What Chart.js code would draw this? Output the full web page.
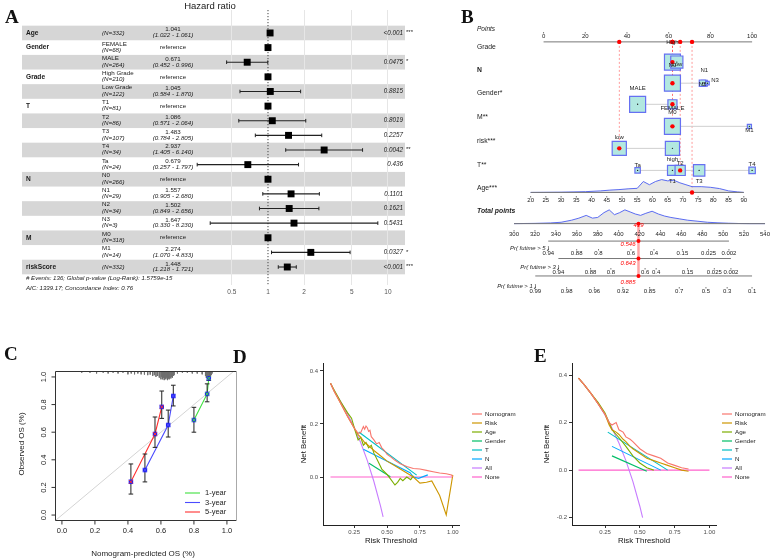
<!DOCTYPE html>
<html>
<head>
<meta charset="utf-8">
<script src="https://cdn.jsdelivr.net/npm/chart.js@4.4.1/dist/chart.umd.min.js"></script>
<style>
  body { margin: 0; background: #fff; }
  #wrap { position: relative; width: 784px; height: 560px; overflow: hidden; background: #fff; }
  canvas { position: absolute; }
  .tag { position: absolute; font: bold 19px 'Liberation Serif', 'DejaVu Serif', serif; line-height: 19px; color: #111; }
</style>
</head>
<body>
<div id="wrap">
  <canvas id="cA" width="460" height="300" style="left:0px;top:0px"></canvas>
  <canvas id="cB" width="324" height="305" style="left:460px;top:0px"></canvas>
  <canvas id="cC" width="245" height="255" style="left:0px;top:305px"></canvas>
  <canvas id="cD" width="290" height="255" style="left:245px;top:305px"></canvas>
  <canvas id="cE" width="249" height="255" style="left:535px;top:305px"></canvas>
  <div class="tag" style="left:5px;top:7px">A</div>
  <div class="tag" style="left:461px;top:7px">B</div>
  <div class="tag" style="left:4px;top:344px">C</div>
  <div class="tag" style="left:233px;top:347px">D</div>
  <div class="tag" style="left:534px;top:346px">E</div>
</div>
<script>
Chart.defaults.font.family = "'Liberation Sans', Arial, sans-serif";
Chart.defaults.color = '#333';
const F = "'Liberation Sans', Arial, sans-serif";

// ---------- A: hazard ratios
const hrVars   = ['Age', 'Gender', '', 'Grade', '', 'T', '', '', '', '', 'N', '', '', '', 'M', '', 'riskScore'];
const hrLevels = ['', 'FEMALE', 'MALE', 'High Grade', 'Low Grade', 'T1', 'T2', 'T3', 'T4', 'Ta', 'N0', 'N1', 'N2', 'N3', 'M0', 'M1', ''];
const hrN      = [332, 68, 264, 210, 122, 81, 86, 107, 34, 24, 266, 29, 34, 3, 318, 14, 332];
const hrEst    = [1.041, 1, 0.671, 1, 1.045, 1, 1.086, 1.483, 2.937, 0.679, 1, 1.557, 1.502, 1.647, 1, 2.274, 1.448];
const hrLow    = [1.022, null, 0.452, null, 0.584, null, 0.571, 0.784, 1.405, 0.257, null, 0.905, 0.849, 0.330, null, 1.070, 1.218];
const hrHigh   = [1.061, null, 0.996, null, 1.870, null, 2.064, 2.805, 6.140, 1.797, null, 2.680, 2.656, 8.230, null, 4.833, 1.721];
const hrP      = ['<0.001', '', '0.0475', '', '0.8815', '', '0.8019', '0.2257', '0.0042', '0.436', '', '0.1101', '0.1621', '0.5431', '', '0.0327', '<0.001'];
const hrStars  = ['***', '', '*', '', '', '', '', '', '**', '', '', '', '', '', '', '*', '***'];
const hrTicks  = [0.5, 1, 2, 5, 10];

// ---------- B: nomogram
const ptsTicks  = [0, 20, 40, 60, 80, 100];
const gradeLv   = ['High', 'Low'],  gradePts  = [61.8, 63.9], gradeN  = [210, 122];
const nLv       = ['N0', 'N1', 'N2', 'N3'], nPts = [61.8, 77.1, 76.2, 78.6], nN = [266, 29, 34, 3];
const genderLv  = ['MALE', 'FEMALE'], genderPts = [45.1, 61.8], genderN = [264, 68];
const mLv       = ['M0', 'M1'], mPts = [61.8, 98.7], mN = [318, 14];
const riskLv    = ['low', 'high'], riskPts = [36.3, 61.8], riskN = [166, 166];
const tLv       = ['Ta', 'T1', 'T2', 'T3', 'T4'], tPts = [45.1, 61.8, 65.5, 74.6, 100], tN = [24, 81, 86, 107, 34];
const patient   = ['High', 'N0', 'FEMALE', 'M0', 'low', 'T2'];
const patientAge = 73, patientTotal = 419;
const ageTicks  = [20, 25, 30, 35, 40, 45, 50, 55, 60, 65, 70, 75, 80, 85, 90];
const ageDensX  = [20, 30, 38, 43, 46, 49, 52, 55, 57, 59, 61, 63, 65, 67, 69, 71, 73, 76, 79, 82, 85, 88, 90];
const ageDens   = [0, 0.02, 0.06, 0.12, 0.18, 0.22, 0.28, 0.32, 0.85, 0.6, 0.85, 1.0, 0.9, 0.95, 0.75, 0.6, 0.45, 0.45, 0.4, 0.3, 0.12, 0.04, 0];
const totTicks  = [300, 320, 340, 360, 380, 400, 420, 440, 460, 480, 500, 520, 540];
const totDensX  = [300, 320, 335, 345, 355, 362, 369, 375, 380, 386, 391, 396, 401, 406, 411, 416, 421, 426, 432, 438, 444, 450, 458, 466, 475, 485, 495, 505, 515, 525, 540];
const totDens   = [0, 0.02, 0.05, 0.1, 0.25, 0.4, 0.6, 0.4, 0.45, 0.8, 1.0, 0.65, 0.8, 1.0, 0.85, 0.7, 0.6, 0.75, 0.9, 0.7, 0.55, 0.45, 0.35, 0.25, 0.18, 0.1, 0.06, 0.03, 0.01, 0, 0];
const pr5Ticks  = [0.94, 0.88, 0.8, 0.6, 0.4, 0.15, 0.025, 0.002];
const pr5At     = [332.7, 359.9, 380.8, 411.8, 433.8, 461.0, 486.0, 505.5];
const pr3Ticks  = [0.94, 0.88, 0.8, 0.6, 0.4, 0.15, 0.025, 0.002];
const pr3At     = [342.4, 373.2, 392.6, 425.3, 435.9, 465.9, 491.5, 507.4];
const pr1Ticks  = [0.99, 0.98, 0.96, 0.92, 0.85, 0.7, 0.5, 0.3, 0.1];
const pr1At     = [320.3, 350.3, 376.8, 404.1, 429.7, 458.0, 483.5, 503.8, 527.6];
const prPatient = ['0.546', '0.643', '0.885'];

// ---------- C: calibration
const calibTicks = [0, 0.2, 0.4, 0.6, 0.8, 1.0];
const cal1X = [0.80, 0.88, 0.89], cal1Y = [0.688, 0.877, 0.99], cal1Lo = [0.60, 0.82, 0.975], cal1Hi = [0.78, 0.95, 1.0];
const cal3X = [0.503, 0.644, 0.675], cal3Y = [0.326, 0.652, 0.862], cal3Lo = [0.24, 0.565, 0.79], cal3Hi = [0.442, 0.76, 0.94];
const cal5X = [0.418, 0.564, 0.605], cal5Y = [0.241, 0.587, 0.783], cal5Lo = [0.152, 0.49, 0.70], cal5Hi = [0.37, 0.71, 0.898];
const rugX = [0.12, 0.17, 0.21, 0.25, 0.28, 0.31, 0.34, 0.37, 0.40, 0.42, 0.44, 0.46, 0.48, 0.50, 0.52, 0.535, 0.55, 0.56, 0.57, 0.58, 0.59, 0.60, 0.605, 0.61, 0.615, 0.62, 0.625, 0.63, 0.635, 0.64, 0.645, 0.65, 0.655, 0.66, 0.665, 0.67, 0.675, 0.68, 0.70, 0.73, 0.76, 0.79, 0.82, 0.85, 0.87, 0.875, 0.88, 0.885, 0.89, 0.895, 0.90, 0.905, 0.91];
const rugH = [0.012, 0.012, 0.018, 0.012, 0.018, 0.012, 0.018, 0.012, 0.024, 0.018, 0.024, 0.018, 0.024, 0.026, 0.03, 0.026, 0.036, 0.03, 0.042, 0.036, 0.048, 0.06, 0.042, 0.06, 0.048, 0.066, 0.054, 0.06, 0.048, 0.066, 0.054, 0.06, 0.048, 0.054, 0.042, 0.048, 0.036, 0.03, 0.018, 0.012, 0.012, 0.018, 0.018, 0.024, 0.036, 0.048, 0.042, 0.06, 0.054, 0.048, 0.042, 0.03, 0.018];

// ---------- D: decision curves
const dNomoX = [0.07, 0.1, 0.15, 0.2, 0.25, 0.28, 0.3, 0.32, 0.33, 0.34, 0.35, 0.36, 0.37, 0.38, 0.4, 0.42, 0.44, 0.46, 0.48, 0.5, 0.53, 0.56, 0.6, 0.65, 0.7, 0.75, 0.8, 0.85, 0.9, 0.95, 0.99, 1.0];
const dNomoY = [0.354, 0.322, 0.275, 0.228, 0.185, 0.165, 0.168, 0.19, 0.18, 0.192, 0.186, 0.172, 0.176, 0.152, 0.14, 0.125, 0.13, 0.11, 0.1, 0.085, 0.075, 0.063, 0.05, 0.04, 0.032, 0.03, 0.025, 0.02, 0.015, 0.012, 0.008, 0.0];
const dRiskX = [0.07, 0.1, 0.15, 0.2, 0.25, 0.28, 0.3, 0.33, 0.36, 0.4, 0.45, 0.5, 0.55, 0.6, 0.65, 0.7, 0.75, 0.8, 0.84, 0.9, 0.95, 1.0];
const dRiskY = [0.354, 0.322, 0.275, 0.228, 0.185, 0.16, 0.15, 0.13, 0.118, 0.1, 0.08, 0.06, 0.045, 0.03, 0.015, 0.0, -0.023, -0.02, -0.015, -0.07, -0.143, 0.008];
const dAgeX  = [0.07, 0.1, 0.15, 0.2, 0.23, 0.26, 0.28, 0.3, 0.32, 0.34, 0.36, 0.38, 0.4, 0.43, 0.46, 0.5, 0.53, 0.56, 0.58, 0.6, 0.62, 0.65, 0.68, 0.7];
const dAgeY  = [0.354, 0.326, 0.282, 0.242, 0.222, 0.17, 0.14, 0.15, 0.12, 0.13, 0.11, 0.12, 0.09, 0.06, 0.03, 0.01, -0.01, -0.03, -0.02, -0.005, -0.014, 0.0, -0.01, 0.005];
const dGenderX = [0.363, 0.525], dGenderY = [0.052, 0.001];
const dTX = [0.285, 0.725], dTY = [0.17, 0.007];
const dNX = [0.32, 0.675, 0.70, 0.74, 0.81], dNY = [0.105, 0.016, 0.0, -0.005, 0.008];
const dAllX = [0.07, 0.1, 0.15, 0.2, 0.25, 0.3, 0.35, 0.4, 0.45, 0.47];
const dAllY = [0.354, 0.322, 0.282, 0.238, 0.187, 0.129, 0.062, -0.017, -0.109, -0.15];
const dNoneX = [0.07, 1.0], dNoneY = [0, 0];

// ---------- E: decision curves (second cohort)
const eNomoX = [0.06, 0.1, 0.15, 0.2, 0.25, 0.28, 0.3, 0.33, 0.35, 0.38, 0.4, 0.43, 0.45, 0.5, 0.55, 0.6, 0.65, 0.7, 0.75, 0.8, 0.85];
const eNomoY = [0.387, 0.36, 0.322, 0.28, 0.235, 0.2, 0.19, 0.2, 0.17, 0.16, 0.14, 0.13, 0.12, 0.09, 0.07, 0.06, 0.05, 0.03, 0.02, 0.01, 0.005];
const eRiskX = [0.06, 0.1, 0.15, 0.2, 0.25, 0.28, 0.3, 0.33, 0.35, 0.38, 0.4, 0.43, 0.45, 0.5, 0.55, 0.6, 0.65, 0.7, 0.75, 0.8, 0.85];
const eRiskY = [0.387, 0.36, 0.322, 0.28, 0.235, 0.19, 0.17, 0.16, 0.15, 0.13, 0.12, 0.1, 0.09, 0.07, 0.05, 0.04, 0.03, 0.02, 0.01, 0.0, -0.005];
const eAgeX  = [0.06, 0.1, 0.15, 0.2, 0.25, 0.28, 0.3, 0.33, 0.36, 0.4, 0.45, 0.5, 0.55, 0.6];
const eAgeY  = [0.387, 0.36, 0.322, 0.285, 0.24, 0.2, 0.17, 0.15, 0.13, 0.1, 0.06, 0.03, 0.01, 0.0];
const eGenderX = [0.3, 0.55], eGenderY = [0.06, -0.005];
const eTX = [0.27, 0.7], eTY = [0.16, 0.0];
const eNX = [0.3, 0.65], eNY = [0.1, 0.0];
const eAllX = [0.06, 0.1, 0.15, 0.2, 0.25, 0.3, 0.35, 0.4, 0.45, 0.5, 0.52];
const eAllY = [0.387, 0.36, 0.322, 0.28, 0.232, 0.177, 0.114, 0.04, -0.047, -0.152, -0.2];
const eNoneX = [0.06, 1.0], eNoneY = [0, 0];

const dcaLabels = ['Nomogram', 'Risk', 'Age', 'Gender', 'T', 'N', 'All', 'None'];
const dcaColors = ['#F8766D', '#CD9600', '#7CAE00', '#00BE67', '#00BFC4', '#00A9FF', '#C77CFF', '#FF61CC'];

// ---------- helpers
const base = {
  responsive: false, animation: false, devicePixelRatio: 1, events: [],
  plugins: { legend: { display: false }, tooltip: { enabled: false } }
};
const zip = (xs, ys) => xs.map((x, i) => ({ x, y: ys[i] }));
function line(data, color, width, extra) {
  return Object.assign({ type: 'line', data, borderColor: color, borderWidth: width, pointRadius: 0, fill: false, tension: 0 }, extra || {});
}

// =============== A
const dsA = [];
dsA.push({ type: 'scatter', data: hrEst.map((v, i) => ({ x: v, y: i })), pointStyle: 'rect', pointRadius: 4.9,
  pointBackgroundColor: '#000', pointBorderWidth: 0 });
hrEst.forEach((v, i) => {
  if (hrLow[i] === null) return;
  dsA.push(line([{ x: hrLow[i], y: i }, { x: hrHigh[i], y: i }], '#222', 1.1,
    { pointStyle: 'line', rotation: 90, pointRadius: 1.8, pointBorderWidth: 1, pointBorderColor: '#222' }));
});
dsA.push(line([{ x: 1, y: -1.57 }, { x: 1, y: 17.23 }], '#444', 1, { borderDash: [1.2, 1.8] }));

const forestPlugin = {
  id: 'forest',
  beforeDraw(chart) {
    const { ctx, scales: { y } } = chart;
    ctx.save();
    ctx.fillStyle = '#d6d6d6';
    hrEst.forEach((_, i) => {
      if (i % 2) return;
      const t = y.getPixelForValue(i - 0.5), b = y.getPixelForValue(i + 0.5);
      ctx.fillRect(22, t, 383, b - t);
    });
    ctx.restore();
  },
  beforeDatasetsDraw(chart) {
    const { ctx, scales: { y } } = chart;
    ctx.save();
    ctx.fillStyle = '#1a1a1a';
    ctx.textBaseline = 'middle';
    hrEst.forEach((v, i) => {
      const c = y.getPixelForValue(i);
      if (hrVars[i]) { ctx.font = `bold 6.6px ${F}`; ctx.textAlign = 'left'; ctx.fillText(hrVars[i], 26, c); }
      ctx.textAlign = 'left';
      if (hrLevels[i]) {
        ctx.font = `6.2px ${F}`; ctx.fillText(hrLevels[i], 102, c - 3.8);
        ctx.font = `italic 6.2px ${F}`; ctx.fillText(`(N=${hrN[i]})`, 102, c + 2.6);
      } else {
        ctx.font = `italic 6.2px ${F}`; ctx.fillText(`(N=${hrN[i]})`, 102, c);
      }
      ctx.textAlign = 'center';
      if (hrLow[i] === null) {
        ctx.font = `6.2px ${F}`; ctx.fillText('reference', 173, c);
      } else {
        ctx.font = `6.2px ${F}`; ctx.fillText(v.toFixed(3), 173, c - 3.2);
        ctx.font = `italic 6.2px ${F}`; ctx.fillText(`(${hrLow[i].toFixed(3)} - ${hrHigh[i].toFixed(3)})`, 173, c + 2.6);
      }
      if (hrP[i]) {
        ctx.textAlign = 'right'; ctx.font = `italic 6.3px ${F}`; ctx.fillText(hrP[i], 403, c);
        if (hrStars[i]) { ctx.textAlign = 'left'; ctx.font = `6px ${F}`; ctx.fillText(hrStars[i], 406, c - 0.5); }
      }
    });
    ctx.textAlign = 'center'; ctx.font = `9.5px ${F}`; ctx.fillText('Hazard ratio', 210, 6);
    ctx.textAlign = 'left'; ctx.font = `italic 6.1px ${F}`;
    ctx.fillText('# Events: 136; Global p-value (Log-Rank): 1.5759e-15', 26, 278);
    ctx.fillText('AIC: 1339.17; Concordance Index: 0.76', 26, 288);
    ctx.restore();
  }
};

new Chart(document.getElementById('cA'), {
  type: 'scatter',
  data: { datasets: dsA },
  options: Object.assign({}, base, {
    layout: { padding: { left: 185, right: 55, top: 10, bottom: 0 } },
    scales: {
      x: {
        type: 'logarithmic', min: 0.2034, max: 13.86, bounds: 'data',
        afterBuildTicks: s => { s.ticks = hrTicks.map(v => ({ value: v })); },
        afterFit: s => { s.height = 15; },
        grid: { color: c => (c.tick && c.tick.value === 1) ? 'rgba(0,0,0,0)' : '#e6e6e6', lineWidth: 1, drawTicks: false },
        border: { display: false },
        ticks: { padding: 3, color: '#555', font: { size: 6.5 }, autoSkip: false, maxRotation: 0, callback: v => String(v) }
      },
      y: { type: 'linear', display: false, reverse: true, min: -1.57, max: 17.23 }
    }
  }),
  plugins: [forestPlugin]
});

// =============== B
const nomoRows = [
  { label: 'Grade',   y: 54,  lv: gradeLv,  pts: gradePts,  n: gradeN,  pos: ['a', 'b'] },
  { label: 'N',       y: 77,  lv: nLv,      pts: nPts,      n: nN,      pos: ['a', 'a', 'b', 'r'], bold: true },
  { label: 'Gender*', y: 100, lv: genderLv, pts: genderPts, n: genderN, pos: ['a', 'b'] },
  { label: 'M**',     y: 124, lv: mLv,      pts: mPts,      n: mN,      pos: ['a', 'b'] },
  { label: 'risk***', y: 148, lv: riskLv,   pts: riskPts,   n: riskN,   pos: ['a', 'b'] },
  { label: 'T**',     y: 172, lv: tLv,      pts: tPts,      n: tN,      pos: ['a', 'b', 'a', 'b', 'a'] }
];
const boxSide = n => Math.min(16, Math.max(3.5, 1.1 * Math.sqrt(n)));
const yPts = 32, yAge = 196, yTot = 230, yPr = [249, 268, 287];
const prSets = [[pr5Ticks, pr5At], [pr3Ticks, pr3At], [pr1Ticks, pr1At]];
const picks = nomoRows.map((r, k) => r.pts[r.lv.indexOf(patient[k])]);

const dsB = []; // back to front
const redDash = 'rgba(255,90,90,0.75)';
nomoRows.forEach((r, k) => dsB.push(line([{ x: picks[k], y: yPts }, { x: picks[k], y: r.y }], redDash, 0.8, { borderDash: [2, 2] })));
dsB.push(line([{ x: patientAge, y: yPts }, { x: patientAge, y: yAge }], redDash, 0.8, { borderDash: [2, 2], xAxisID: 'age' }));
dsB.push(line(ageDensX.map((x, i) => ({ x, y: yAge - 14 * ageDens[i] })), '#4a5cf0', 0.9,
  { xAxisID: 'age', fill: { value: yAge }, backgroundColor: 'rgba(200,200,200,0.45)' }));
dsB.push(line(totDensX.map((x, i) => ({ x, y: yTot - 15 * totDens[i] })), '#4a5cf0', 0.9,
  { xAxisID: 'tot', fill: { value: yTot }, backgroundColor: 'rgba(200,200,200,0.45)' }));
dsB.push(line([{ x: 0, y: yPts }, { x: 100, y: yPts }], '#777', 1));
dsB.push(line([{ x: 20, y: yAge }, { x: 90, y: yAge }], '#777', 1, { xAxisID: 'age' }));
dsB.push(line([{ x: 300, y: yTot }, { x: 540, y: yTot }], '#777', 1, { xAxisID: 'tot' }));
prSets.forEach(([tk, at], k) => dsB.push(line([{ x: at[0], y: yPr[k] }, { x: at[at.length - 1], y: yPr[k] }], '#777', 1, { xAxisID: 'tot' })));
nomoRows.forEach(r => dsB.push(line([{ x: Math.min(...r.pts), y: r.y }, { x: Math.max(...r.pts), y: r.y }], '#cfcfcf', 1)));
nomoRows.forEach(r => dsB.push({ type: 'scatter', data: r.pts.map(x => ({ x, y: r.y })), pointStyle: 'rect',
  pointRadius: r.n.map(n => boxSide(n) / Math.SQRT2), pointBackgroundColor: '#b2e8e0', pointBorderColor: '#6670f2', pointBorderWidth: 1.2 }));
nomoRows.forEach(r => dsB.push({ type: 'scatter', data: r.pts.map(x => ({ x, y: r.y })), pointRadius: 0.7, pointBackgroundColor: '#222', pointBorderWidth: 0 }));
dsB.push(line([{ x: patientTotal, y: yTot }, { x: patientTotal, y: 289 }], 'rgba(255,0,0,0.35)', 2.5, { xAxisID: 'tot' }));
dsB.push({ type: 'scatter', data: nomoRows.map((r, k) => ({ x: picks[k], y: r.y })).concat(picks.map(x => ({ x, y: yPts }))),
  pointRadius: 2.2, pointBackgroundColor: '#ff0000', pointBorderWidth: 0 });
dsB.push({ type: 'scatter', xAxisID: 'age', data: [{ x: patientAge, y: yAge }, { x: patientAge, y: yPts }],
  pointRadius: 2.2, pointBackgroundColor: '#ff0000', pointBorderWidth: 0 });
dsB.push({ type: 'scatter', xAxisID: 'tot', data: [yTot].concat(yPr).map(y => ({ x: patientTotal, y })),
  pointRadius: 2, pointBackgroundColor: '#ff0000', pointBorderWidth: 0 });
dsB.reverse();

const nomoPlugin = {
  id: 'nomo',
  afterDraw(chart) {
    const { ctx, scales } = chart;
    const X = scales.x, A = scales.age, T = scales.tot;
    ctx.save();
    ctx.fillStyle = '#222'; ctx.strokeStyle = '#777'; ctx.lineWidth = 1;
    ctx.textBaseline = 'middle'; ctx.textAlign = 'left';
    const rowLab = (txt, y, font) => { ctx.font = font; ctx.textAlign = 'left'; ctx.fillText(txt, 17, y); };
    rowLab('Points', yPts - 3, `italic 6.5px ${F}`);
    nomoRows.forEach(r => rowLab(r.label, r.y - 7, `${r.bold ? 'bold ' : ''}6.8px ${F}`));
    rowLab('Age***', yAge - 8, `6.8px ${F}`);
    rowLab('Total points', 211, `bold italic 6.8px ${F}`);
    const axis = (scale, ticks, y) => {
      ctx.font = `6px ${F}`; ctx.textAlign = 'center';
      ticks.forEach(v => {
        const px = scale.getPixelForValue(v);
        ctx.beginPath(); ctx.moveTo(px, y); ctx.lineTo(px, y + 1.5); ctx.stroke();
        ctx.fillText(String(v), px, y + 4.5);
      });
    };
    axis(X, ptsTicks, yPts);
    axis(A, ageTicks, yAge);
    axis(T, totTicks, yTot);
    prSets.forEach(([tk, at], k) => {
      ctx.font = `6px ${F}`; ctx.textAlign = 'center';
      at.forEach((v, i) => {
        const px = T.getPixelForValue(v);
        ctx.beginPath(); ctx.moveTo(px, yPr[k]); ctx.lineTo(px, yPr[k] + 1.5); ctx.stroke();
        ctx.fillText(String(tk[i]), px, yPr[k] + 4.5);
      });
      const x0 = T.getPixelForValue(at[0]);
      ctx.font = `italic 5.9px ${F}`; ctx.textAlign = 'right';
      ctx.fillText(`Pr( futime > ${[5, 3, 1][k]} )`, x0 + 1, yPr[k] - 1);
      ctx.fillStyle = '#ff0000'; ctx.font = `italic 6px ${F}`;
      ctx.fillText(prPatient[k], T.getPixelForValue(patientTotal) - 3, yPr[k] - 5);
      ctx.fillStyle = '#222';
    });
    ctx.fillStyle = '#ff0000'; ctx.font = `italic 6px ${F}`; ctx.textAlign = 'center';
    ctx.fillText(String(patientTotal), T.getPixelForValue(patientTotal), yTot - 5);
    ctx.fillStyle = '#222'; ctx.font = `6px ${F}`;
    nomoRows.forEach(r => {
      r.lv.forEach((lv, i) => {
        const px = X.getPixelForValue(r.pts[i]), h = boxSide(r.n[i]) / 2;
        const p = r.pos[i];
        if (p === 'a') { ctx.textAlign = 'center'; ctx.fillText(lv, px, r.y - h - 4); }
        else if (p === 'b') { ctx.textAlign = 'center'; ctx.fillText(lv, px, r.y + h + 4); }
        else { ctx.textAlign = 'left'; ctx.fillText(lv, px + h + 2, r.y + 3); }
      });
    });
    ctx.restore();
  }
};

new Chart(document.getElementById('cB'), {
  type: 'scatter',
  data: { datasets: dsB },
  options: Object.assign({}, base, {
    layout: { padding: 0 },
    scales: {
      x:   { type: 'linear', display: false, min: -34.07, max: 109.29 },
      age: { type: 'linear', axis: 'x', position: 'bottom', display: false, min: 0.909, max: 99.09 },
      tot: { type: 'linear', axis: 'x', position: 'bottom', display: false, min: 260.29, max: 546.18 },
      y:   { type: 'linear', display: false, reverse: true, min: 0, max: 305 }
    }
  }),
  plugins: [nomoPlugin]
});

// =============== C
const calSeries = [
  { label: '1-year', x: cal1X, y: cal1Y, lo: cal1Lo, hi: cal1Hi, color: '#3ee03e' },
  { label: '3-year', x: cal3X, y: cal3Y, lo: cal3Lo, hi: cal3Hi, color: '#4b4bff' },
  { label: '5-year', x: cal5X, y: cal5Y, lo: cal5Lo, hi: cal5Hi, color: '#ff3030' }
];
const dsC = [];
calSeries.forEach(s => dsC.push({ type: 'scatter', data: zip(s.x, s.y), pointStyle: 'crossRot', pointRadius: 2.6, pointBorderColor: s.color, pointBorderWidth: 1 }));
calSeries.forEach(s => dsC.push({ type: 'scatter', data: zip(s.x, s.y), pointStyle: 'rect', pointRadius: 3.2, pointBackgroundColor: '#2323f0', pointBorderWidth: 0 }));
calSeries.forEach(s => s.x.forEach((x, i) => dsC.push(line([{ x, y: s.lo[i] }, { x, y: s.hi[i] }], '#222', 1,
  { pointStyle: 'line', pointRadius: 2.3, pointBorderColor: '#222', pointBorderWidth: 1 }))));
calSeries.forEach(s => dsC.push(line(zip(s.x, s.y), s.color, 1.1)));
const rugData = [];
rugX.forEach((x, i) => { rugData.push({ x, y: 1.043 }, { x, y: 1.043 - rugH[i] }, { x, y: null }); });
dsC.push(line(rugData, '#6e6e6e', 0.9, { spanGaps: false }));
dsC.push(line([{ x: -0.1, y: -0.1 }, { x: 1.2, y: 1.2 }], '#d4d4d4', 1));

const calibPlugin = {
  id: 'calib',
  afterDraw(chart) {
    const { ctx, chartArea: a, scales: { x, y } } = chart;
    ctx.save();
    ctx.strokeStyle = '#333'; ctx.lineWidth = 1;
    ctx.beginPath();
    ctx.moveTo(a.right - 0.5, a.top + 0.5); ctx.lineTo(a.left + 0.5, a.top + 0.5);
    ctx.lineTo(a.left + 0.5, a.bottom - 0.5); ctx.lineTo(a.right - 0.5, a.bottom - 0.5); ctx.stroke();
    ctx.strokeStyle = '#aaa'; ctx.beginPath(); ctx.moveTo(a.right - 0.5, a.top); ctx.lineTo(a.right - 0.5, a.bottom); ctx.stroke();
    ctx.strokeStyle = '#333';
    ctx.fillStyle = '#222'; ctx.font = `7.5px ${F}`; ctx.textAlign = 'center'; ctx.textBaseline = 'middle';
    calibTicks.forEach(v => {
      const px = x.getPixelForValue(v), py = y.getPixelForValue(v);
      ctx.beginPath(); ctx.moveTo(px, a.bottom); ctx.lineTo(px, a.bottom + 3.5); ctx.stroke();
      ctx.fillText(v.toFixed(1), px, a.bottom + 9.5);
      ctx.beginPath(); ctx.moveTo(a.left, py); ctx.lineTo(a.left - 3.5, py); ctx.stroke();
      ctx.save(); ctx.translate(a.left - 11.5, py); ctx.rotate(-Math.PI / 2); ctx.fillText(v.toFixed(1), 0, 0); ctx.restore();
    });
    ctx.font = `8px ${F}`;
    ctx.fillText('Nomogram-predicted OS (%)', (a.left + a.right) / 2 - 3, 249);
    ctx.save(); ctx.translate(22, (a.top + a.bottom) / 2 - 2); ctx.rotate(-Math.PI / 2); ctx.fillText('Observed OS (%)', 0, 0); ctx.restore();
    ctx.textAlign = 'left'; ctx.font = `7.5px ${F}`;
    calSeries.forEach((s, i) => {
      const ly = 188 + i * 9.5;
      ctx.strokeStyle = s.color; ctx.lineWidth = 1.1;
      ctx.beginPath(); ctx.moveTo(185, ly); ctx.lineTo(200, ly); ctx.stroke();
      ctx.fillText(s.label, 205, ly);
    });
    ctx.restore();
  }
};

new Chart(document.getElementById('cC'), {
  type: 'scatter',
  data: { datasets: dsC },
  options: Object.assign({}, base, {
    layout: { padding: { left: 55, right: 8, top: 66, bottom: 39 } },
    scales: {
      x: { type: 'linear', display: false, min: -0.042, max: 1.061 },
      y: { type: 'linear', display: false, min: -0.043, max: 1.043 }
    }
  }),
  plugins: [calibPlugin]
});

// =============== D / E
function dcaChart(id, series, geo) {
  const legend = {
    id: 'dcaLegend',
    afterDraw(chart) {
      const { ctx } = chart;
      ctx.save();
      ctx.font = `6.2px ${F}`; ctx.textBaseline = 'middle'; ctx.textAlign = 'left'; ctx.fillStyle = '#222';
      dcaLabels.forEach((lab, i) => {
        const ly = geo.legY + i * 9;
        ctx.strokeStyle = dcaColors[i]; ctx.lineWidth = 1.2;
        ctx.beginPath(); ctx.moveTo(geo.legX, ly); ctx.lineTo(geo.legX + 10, ly); ctx.stroke();
        ctx.fillText(lab, geo.legX + 13, ly);
      });
      ctx.restore();
    }
  };
  return new Chart(document.getElementById(id), {
    type: 'line',
    data: { datasets: series.map((s, i) => line(zip(s[0], s[1]), dcaColors[i], 1.1)) },
    options: Object.assign({}, base, {
      layout: { padding: geo.pad },
      scales: {
        x: {
          type: 'linear', min: 0.013, max: 1.047,
          afterBuildTicks: s => { s.ticks = [0.25, 0.5, 0.75, 1].map(v => ({ value: v })); },
          afterFit: s => { s.height = 22; },
          grid: { drawOnChartArea: false, drawTicks: true, tickLength: 3, tickColor: '#333' },
          border: { display: true, color: '#222', width: 1 },
          ticks: { padding: 1, color: '#4d4d4d', font: { size: 6 }, autoSkip: false, maxRotation: 0, callback: v => v.toFixed(2) },
          title: { display: true, text: 'Risk Threshold', color: '#111', font: { size: 7.8 }, padding: { top: 0, bottom: 1.5 } }
        },
        y: {
          type: 'linear', min: geo.yMin, max: geo.yMax,
          afterBuildTicks: s => { s.ticks = geo.yTicks.map(v => ({ value: v })); },
          afterFit: s => { s.width = geo.yW; },
          grid: { drawOnChartArea: false, drawTicks: true, tickLength: 3, tickColor: '#333' },
          border: { display: true, color: '#222', width: 1 },
          ticks: { padding: 2, color: '#4d4d4d', font: { size: 6 }, autoSkip: false, callback: v => v.toFixed(1) },
          title: { display: true, text: 'Net Benefit', color: '#111', font: { size: 7.8 }, padding: { top: 2, bottom: 0 } }
        }
      }
    }),
    plugins: [legend]
  });
}

dcaChart('cD', [[dNomoX, dNomoY], [dRiskX, dRiskY], [dAgeX, dAgeY], [dGenderX, dGenderY], [dTX, dTY], [dNX, dNY], [dAllX, dAllY], [dNoneX, dNoneY]],
  { pad: { left: 52, right: 76, top: 58, bottom: 13 }, yW: 26, yMin: -0.181, yMax: 0.43, yTicks: [0, 0.2, 0.4], legX: 227, legY: 109 });
dcaChart('cE', [[eNomoX, eNomoY], [eRiskX, eRiskY], [eAgeX, eAgeY], [eGenderX, eGenderY], [eTX, eTY], [eNX, eNY], [eAllX, eAllY], [eNoneX, eNoneY]],
  { pad: { left: 5, right: 68, top: 58, bottom: 13 }, yW: 32, yMin: -0.231, yMax: 0.451, yTicks: [-0.2, 0, 0.2, 0.4], legX: 187, legY: 109 });
</script>
</body>
</html>
